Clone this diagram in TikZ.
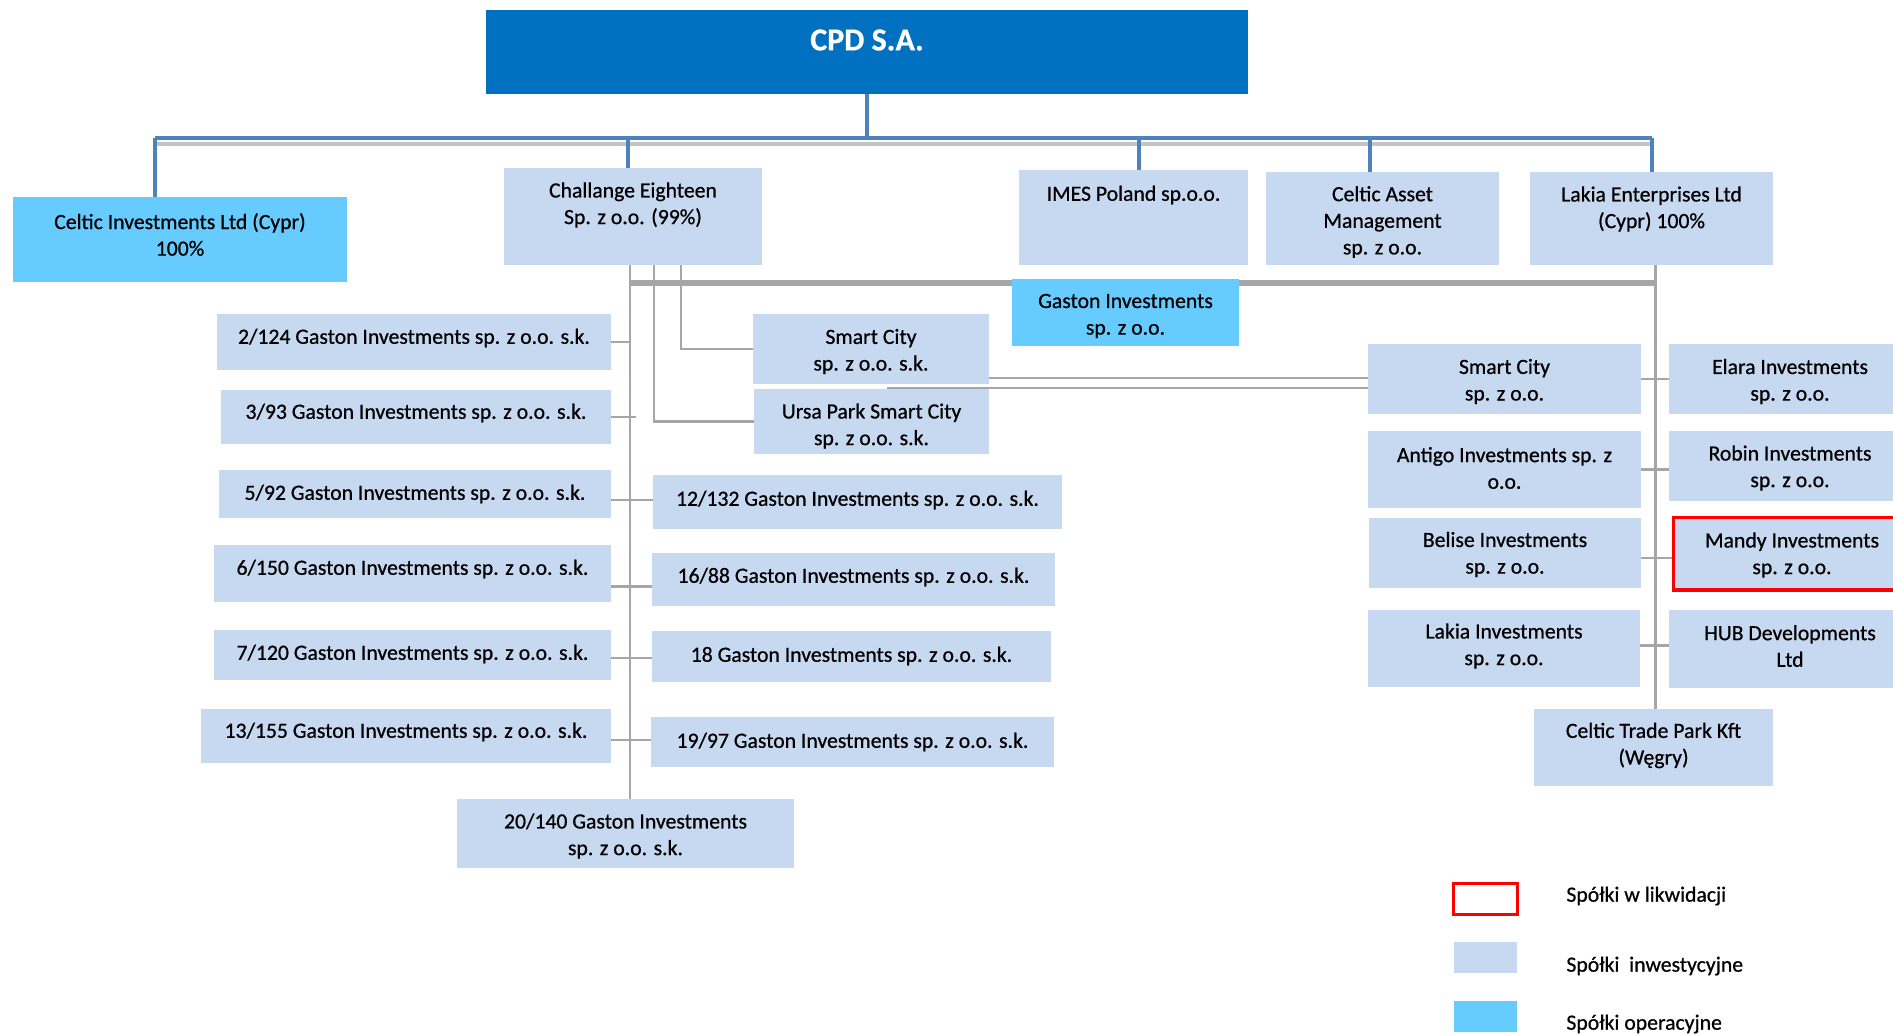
\documentclass[tikz,border=0pt]{standalone}
\usepackage{fontspec}
\setmainfont{Carlito}[FakeBold=0.7]
\usetikzlibrary{calc}
\definecolor{cpdblue}{HTML}{0070C0}
\definecolor{invfill}{HTML}{C6D9F1}
\definecolor{opfill}{HTML}{66CCFF}
\definecolor{linkblue}{HTML}{4F81BD}
\definecolor{linkgray}{HTML}{A6A6A6}
\definecolor{shadowgray}{HTML}{C4C4C4}
\definecolor{liqred}{HTML}{FF0000}
\pgfdeclarelayer{bg}
\pgfsetlayers{bg,main}
% #1 name, #2 box style, #3 x1, #4 y1, #5 x2, #6 y2, #7 text centre y, #8 text
\newcommand\orgbox[8]{%
  \node[#2, minimum width={(#5-#3)*0.5pt}, minimum height={(#6-#4)*0.5pt}] (#1) at ({(#3+#5)/2},{(#4+#6)/2}) {};
  \node[txt] (#1t) at ({(#3+#5)/2},#7) {#8};}
\begin{document}
\begin{tikzpicture}[x=0.5pt,y=-0.5pt,
  basebox/.style={rectangle, inner sep=0pt, outer sep=0pt, draw=none},
  inv/.style={basebox, fill=invfill},
  oper/.style={basebox, fill=opfill},
  liq/.style={basebox, fill=invfill, draw=liqred, line width=1.5pt},
  legliq/.style={basebox, fill=white, draw=liqred, line width=1.5pt},
  txt/.style={align=center, inner sep=0pt, font=\fontsize{10.85}{13.3}\selectfont},
  legtxt/.style={anchor=west, inner sep=0pt, font=\fontsize{10.85}{13.3}\selectfont},
  bline/.style={draw=linkblue, line width=2pt},
  bshadow/.style={draw=shadowgray, line width=1.8pt},
  gline/.style={draw=linkgray, line width=1.4pt},
  gbar/.style={draw=linkgray, line width=2.6pt},
  thinline/.style={draw=linkgray, line width=1.1pt}]
\path[use as bounding box] (0,0) rectangle (1893,1036);
\clip (0,0) rectangle (1893,1036);

% top
\node[basebox, fill=cpdblue, minimum width={762*0.5pt}, minimum height={84*0.5pt}] (cpd) at (867,52) {};
\node[txt, text=white, font=\bfseries\fontsize{16}{19}\selectfont] (cpdt) at (867,40) {CPD S.A.};

\orgbox{celtic}{oper}{13}{197}{347}{282}{234.5}{Celtic Investments Ltd (Cypr)\\100\%}
\orgbox{chal}{inv}{504}{168}{762}{265}{205}{Challange Eighteen\\Sp. z o.o. (99\%)}
\orgbox{imes}{inv}{1019}{170}{1248}{265}{195}{IMES Poland sp.o.o.}
\orgbox{cam}{inv}{1266}{172}{1499}{265}{222}{Celtic Asset\\Management\\sp. z o.o.}
\orgbox{lake}{inv}{1530}{172}{1773}{265}{209}{Lakia Enterprises Ltd\\(Cypr) 100\%}
\orgbox{gaston}{oper}{1012}{279}{1239}{346}{316}{Gaston Investments\\sp. z o.o.}

% left column
\orgbox{bA}{inv}{217}{314}{611}{370}{338}{2/124 Gaston Investments sp. z o.o. s.k.}
\orgbox{bB}{inv}{221}{390}{611}{444}{413}{3/93 Gaston Investments sp. z o.o. s.k.}
\orgbox{bC}{inv}{219}{470}{611}{518}{494}{5/92 Gaston Investments sp. z o.o. s.k.}
\orgbox{bD}{inv}{214}{545}{611}{602}{569}{6/150 Gaston Investments sp. z o.o. s.k.}
\orgbox{bE}{inv}{214}{630}{611}{680}{654}{7/120 Gaston Investments sp. z o.o. s.k.}
\orgbox{bF}{inv}{201}{709}{611}{763}{732}{13/155 Gaston Investments sp. z o.o. s.k.}

% middle column
\orgbox{scsk}{inv}{753}{314}{989}{384}{351.5}{Smart City\\sp. z o.o. s.k.}
\orgbox{ursa}{inv}{754}{389}{989}{454}{426}{Ursa Park Smart City\\sp. z o.o. s.k.}
\orgbox{bG}{inv}{653}{475}{1062}{529}{500}{12/132 Gaston Investments sp. z o.o. s.k.}
\orgbox{bH}{inv}{652}{553}{1055}{606}{577}{16/88 Gaston Investments sp. z o.o. s.k.}
\orgbox{bI}{inv}{652}{631}{1051}{682}{656}{18 Gaston Investments sp. z o.o. s.k.}
\orgbox{bJ}{inv}{651}{717}{1054}{767}{742}{19/97 Gaston Investments sp. z o.o. s.k.}
\orgbox{bK}{inv}{457}{799}{794}{868}{836}{20/140 Gaston Investments\\sp. z o.o. s.k.}

% right block
\orgbox{scr}{inv}{1368}{344}{1641}{414}{381.5}{Smart City\\sp. z o.o.}
\orgbox{elara}{inv}{1669}{344}{1911}{414}{381.5}{Elara Investments\\sp. z o.o.}
\orgbox{antigo}{inv}{1368}{431}{1641}{508}{468}{Antigo Investments sp. z\\o.o.}
\orgbox{robin}{inv}{1669}{431}{1911}{501}{468}{Robin Investments\\sp. z o.o.}
\orgbox{belise}{inv}{1369}{518}{1641}{588}{554.5}{Belise Investments\\sp. z o.o.}
\orgbox{mandy}{liq}{1673}{518}{1911}{590}{555}{Mandy Investments\\sp. z o.o.}
\orgbox{lakinv}{inv}{1368}{610}{1640}{687}{646}{Lakia Investments\\sp. z o.o.}
\orgbox{hub}{inv}{1669}{610}{1911}{688}{646}{HUB Developments\\Ltd}
\orgbox{ctp}{inv}{1534}{709}{1773}{786}{745.5}{Celtic Trade Park Kft\\(Węgry)}

% legend
\node[legliq, minimum width={64*0.5pt}, minimum height={31*0.5pt}] (lg1) at (1485,898.5) {};
\node[inv, minimum width={63*0.5pt}, minimum height={31*0.5pt}] (lg2) at (1485.5,957.5) {};
\node[oper, minimum width={63*0.5pt}, minimum height={31*0.5pt}] (lg3) at (1485.5,1016.5) {};
\node[legtxt] (lg1t) at (1566,896) {Spółki w likwidacji};
\node[legtxt] (lg2t) at (1566,966) {Spółki\ \ inwestycyjne};
\node[legtxt] (lg3t) at (1566,1024) {Spółki operacyjne};

\begin{pgfonlayer}{bg}
  % blue tree from CPD
  \coordinate (busL) at ([xshift=-12.5pt]celtic.north |- 0,138);
  \coordinate (busR) at (lake.north |- busL);
  \draw[bshadow] ([yshift=-3pt]busL) -- ([yshift=-3pt]busR);
  \draw[bline] (cpd.south) -- (cpd.south |- busL);
  \draw[bline] (busL) -- (busR);
  \draw[bline] (busL) -- (busL |- celtic.north);
  \draw[bline] ([xshift=-2.5pt]chal.north |- busL) -- ([xshift=-2.5pt]chal.north);
  \draw[bline] ([xshift=2.5pt]imes.north |- busL) -- ([xshift=2.5pt]imes.north);
  \draw[bline] ([xshift=-6.5pt]cam.north |- busL) -- ([xshift=-6.5pt]cam.north);
  \draw[bline] (busR) -- (lake.north);

  % grey links below Challange Eighteen
  \coordinate (c1) at ([xshift=-1.5pt]chal.south);
  \coordinate (c2) at ([xshift=10.5pt]chal.south);
  \coordinate (c3) at ([xshift=24pt]chal.south);
  \coordinate (cR) at ([xshift=2pt]lake.south);
  \draw[gline] (c1) -- (c1 |- bK.north);
  \draw[gline] (c2) -- (c2 |- ursa.west) -- (ursa.west);
  \draw[gline] (c3) -- (c3 |- scsk.west) -- (scsk.west);
  \coordinate (barL) at ([yshift=-9pt]c1);
  \draw[gbar] (barL) -- (barL -| cR);
  \draw[thinline] (cR) -- (cR |- ctp.north);

  % left column links
  \draw[gline] (bA.east) -- (bA.east -| c1);
  \draw[gline] (bB.east) -- ([xshift=3pt]bB.east -| c1);
  \coordinate (lC) at ([yshift=-3pt]bC.east);
  \draw[gline] (lC) -- (lC -| bG.west);
  \coordinate (lD) at ([yshift=-6.5pt]bD.east);
  \draw[gline] (lD) -- (lD -| bH.west);
  \coordinate (lE) at ([yshift=-1.5pt]bE.east);
  \draw[gline] (lE) -- (lE -| bI.west);
  \coordinate (lF) at ([yshift=-2pt]bF.east);
  \draw[gline] (lF) -- (lF -| bJ.west);

  % Smart City links
  \coordinate (l1) at ([yshift=-14.5pt]scsk.east);
  \draw[gline] (l1) -- (l1 -| scr.west);
  \coordinate (l2) at ([xshift=7.75pt,yshift=0.5pt]ursa.north);
  \draw[gline] (l2) -- (l2 -| scr.west);

  % right block links
  \draw[gline] (scr.east) -- (scr.east -| elara.west);
  \draw[gline] ([xshift=-3pt]antigo.east) -- (antigo.east -| robin.west);
  \coordinate (lM) at ([yshift=-2.5pt]belise.east);
  \draw[gline] (lM) -- (lM -| mandy.west);
  \coordinate (lH) at ([yshift=1.5pt]lakinv.east);
  \draw[gline] (lH) -- (lH -| hub.west);
\end{pgfonlayer}
\end{tikzpicture}
\end{document}
